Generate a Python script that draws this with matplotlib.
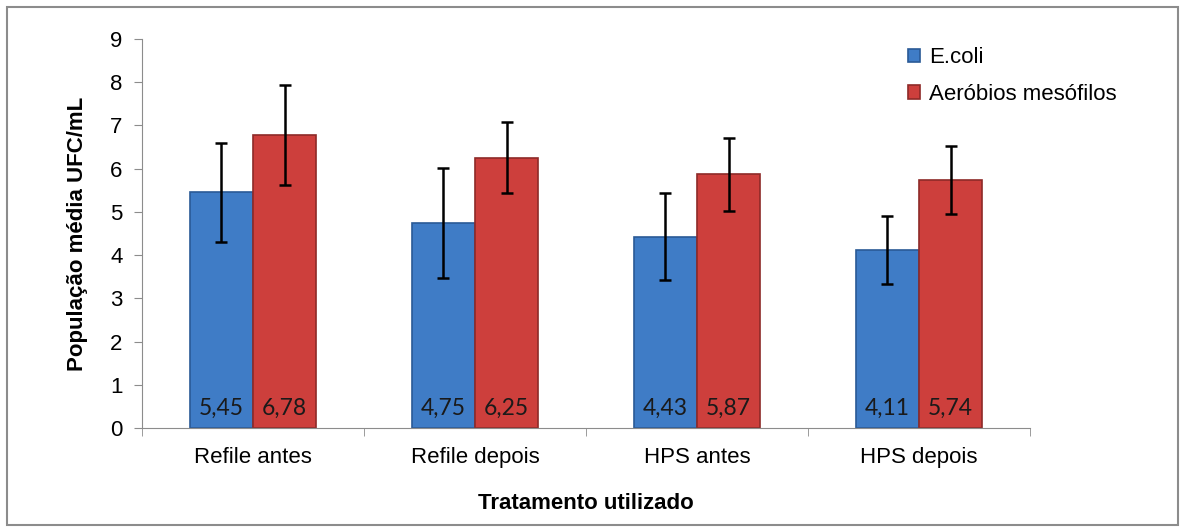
import numpy as np
import matplotlib.pyplot as plt
from matplotlib.patches import Rectangle

# dados do grafico
tratamentos = ['Refile antes', 'Refile depois', 'HPS antes', 'HPS depois']
ecoli = [5.45, 4.75, 4.43, 4.11]
ecoli_err = [1.15, 1.27, 1.0, 0.79]
aerobios = [6.78, 6.25, 5.87, 5.74]
aerobios_err = [1.15, 0.82, 0.85, 0.79]
rotulos_ecoli = ['5,45', '4,75', '4,43', '4,11']
rotulos_aerobios = ['6,78', '6,25', '5,87', '5,74']

plt.rcParams['font.family'] = ['Liberation Sans', 'DejaVu Sans']

fig = plt.figure(figsize=(11.85, 5.31), dpi=100)
ax = fig.add_axes([0.1198, 0.194, 0.7495, 0.7326])

# moldura cinza em volta de tudo
fig.patches.append(Rectangle((0.006, 0.012), 0.988, 0.975, transform=fig.transFigure,
                             fill=False, edgecolor='#8c8c8c', linewidth=1.5))

x = np.arange(len(tratamentos))
w = 0.285

b1 = ax.bar(x - w / 2, ecoli, w, color='#3f7cc6', edgecolor='#2a5a96', linewidth=1.2,
            label='E.coli', zorder=2)
b2 = ax.bar(x + w / 2, aerobios, w, color='#cd3f3c', edgecolor='#8e2a28', linewidth=1.2,
            label='Aeróbios mesófilos', zorder=2)
ax.errorbar(x - w / 2, ecoli, yerr=ecoli_err, fmt='none', ecolor='black',
            elinewidth=1.8, capsize=4, capthick=1.8, zorder=3)
ax.errorbar(x + w / 2, aerobios, yerr=aerobios_err, fmt='none', ecolor='black',
            elinewidth=1.8, capsize=4, capthick=1.8, zorder=3)

for xi, t in zip(x - w / 2, rotulos_ecoli):
    ax.text(xi, 0.45, t, ha='center', va='center', fontsize=16.5, family='Lato',
            color='#1a1a1a', zorder=4)
for xi, t in zip(x + w / 2, rotulos_aerobios):
    ax.text(xi, 0.45, t, ha='center', va='center', fontsize=16.5, family='Lato',
            color='#1a1a1a', zorder=4)

ax.set_xlim(-0.5, 3.5)
ax.set_ylim(0, 9)
ax.set_yticks(range(10))
ax.set_xticks(x)
ax.set_xticklabels(tratamentos)
ax.set_xticks(np.arange(-0.5, 4.0, 1.0), minor=True)
ax.tick_params(axis='x', which='major', length=0, labelsize=16, pad=14)
ax.tick_params(axis='x', which='minor', length=6, color='#8c8c8c', direction='out')
ax.tick_params(axis='y', length=6, color='#8c8c8c', labelsize=16, pad=8)

for s in ['top', 'right']:
    ax.spines[s].set_visible(False)
ax.spines['left'].set_color('#8c8c8c')
ax.spines['bottom'].set_color('#8c8c8c')

ax.set_ylabel('População média UFC/mL', fontsize=16, fontweight='bold', labelpad=16)
ax.set_xlabel('Tratamento utilizado', fontsize=16, fontweight='bold', labelpad=18)

ax.legend(loc='upper left', bbox_to_anchor=(0.84, 1.03), frameon=False, fontsize=16,
          handlelength=0.55, handleheight=0.55, handletextpad=0.4, labelspacing=0.7)

fig.savefig('out.png', dpi=100)
